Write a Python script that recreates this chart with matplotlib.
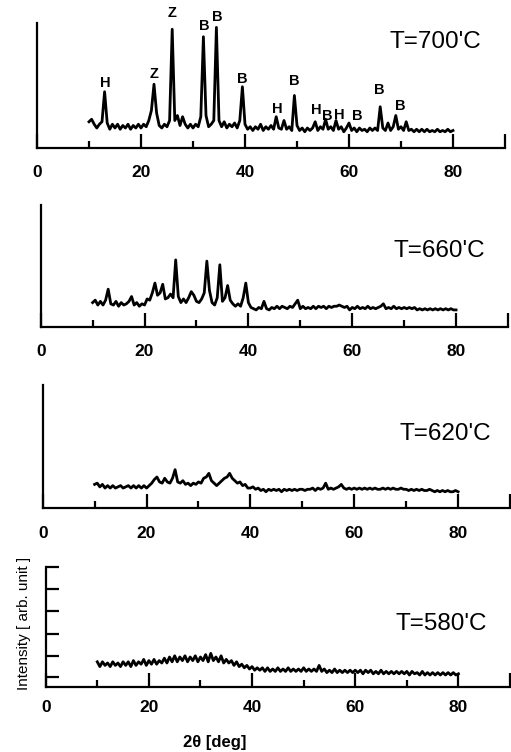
import matplotlib.pyplot as plt
import numpy as np

plt.rcParams['font.family'] = ['Liberation Sans', 'DejaVu Sans']

W, H = 511, 752

# diffractometer scan grid: 10 - 80 deg, 0.5 deg step
two_theta = np.arange(10.0, 80.01, 0.5)

# intensities (arb. units, axis top = 100)
i_700 = [21, 23, 19, 16, 19, 21, 45, 20, 15, 19,
         16, 19, 15, 18, 16, 19, 15, 18, 16, 19,
         16, 19, 17, 22, 30, 51, 28, 18, 16, 19,
         17, 22, 95, 22, 26, 18, 25, 19, 16, 19,
         16, 19, 17, 25, 89, 26, 17, 19, 22, 96.5,
         22, 17, 21, 16, 19, 17, 20, 16, 22, 49,
         19, 15, 17, 14, 17, 15, 19, 14, 17, 15,
         18, 15, 25, 16, 15, 22, 15, 17, 14, 42,
         18, 14, 16, 13, 16, 14, 16, 21, 14, 17,
         15, 23, 15, 17, 14, 22, 15, 17, 13, 16,
         20, 14, 16, 13, 16, 14, 15, 13, 16, 14,
         16, 14, 33, 16, 14, 20, 14, 17, 26, 15,
         17, 14, 21, 14, 15, 13, 15, 13, 15, 13,
         15, 13, 14, 13, 15, 13, 14, 13, 15, 13,
         14]

i_660 = [20, 22, 18, 21, 18, 22, 31, 19, 18, 21,
         17, 20, 18, 19, 21, 25, 18, 20, 17, 19,
         18, 23, 22, 28, 36, 26, 28, 35, 23, 24,
         27, 24, 55, 25, 20, 23, 20, 24, 29, 26,
         21, 20, 23, 28, 54, 30, 20, 18, 24, 51,
         21, 24, 34, 22, 19, 17, 19, 17, 24, 36,
         20, 16, 15, 14, 16, 15, 21, 15, 14, 16,
         15, 17, 15, 17, 16, 15, 17, 16, 19, 22,
         15, 17, 15, 16, 15, 17, 15, 17, 16, 17,
         15, 17, 16, 17, 17, 18, 17, 16, 17, 14,
         16, 15, 17, 15, 16, 15, 17, 15, 16, 15,
         16, 17, 19, 15, 16, 15, 17, 15, 16, 15,
         16, 15, 16, 15, 16, 14, 15, 14, 15, 14,
         15, 14, 15, 14, 15, 14, 15, 14, 15, 14,
         14]

i_620 = [19, 20, 17, 19, 16, 18, 16, 18, 16, 17,
         18, 16, 17, 18, 16, 18, 16, 18, 16, 18,
         16, 18, 20, 23, 25, 21, 20, 24, 21, 20,
         24, 31, 21, 20, 22, 19, 20, 18, 20, 19,
         21, 20, 24, 25, 28, 22, 20, 18, 20, 22,
         24, 25, 28, 24, 22, 20, 21, 18, 19, 16,
         16, 17, 15, 16, 14, 15, 13, 15, 14, 15,
         14, 15, 13, 15, 14, 15, 14, 15, 14, 15,
         15, 14, 15, 15, 16, 14, 16, 15, 16, 20,
         15, 16, 15, 16, 17, 19, 16, 15, 16, 15,
         16, 15, 16, 15, 16, 15, 16, 15, 16, 15,
         15, 16, 15, 16, 15, 16, 15, 15, 16, 15,
         15, 14, 15, 14, 15, 14, 15, 14, 14, 15,
         14, 13, 14, 13, 14, 13, 14, 13, 13, 14,
         13]

i_580 = [21, 17, 21, 18, 20, 17, 21, 18, 20, 17,
         21, 18, 21, 17, 22, 18, 21, 19, 23, 18,
         22, 19, 23, 19, 22, 20, 24, 20, 25, 21,
         26, 21, 25, 22, 26, 21, 25, 22, 26, 21,
         25, 22, 27, 21, 28, 22, 25, 21, 26, 20,
         23, 20, 22, 18, 21, 17, 19, 16, 18, 15,
         17, 14, 16, 14, 16, 13, 16, 13, 15, 13,
         16, 13, 15, 13, 16, 13, 15, 13, 15, 13,
         16, 13, 15, 13, 15, 13, 18, 13, 15, 12,
         14, 12, 15, 12, 14, 12, 14, 12, 14, 12,
         14, 12, 14, 11, 14, 12, 14, 11, 13, 11,
         14, 11, 13, 11, 13, 11, 13, 11, 13, 11,
         13, 10, 13, 11, 12, 10, 13, 10, 12, 10,
         12, 10, 12, 10, 12, 10, 12, 10, 12, 10,
         11]

temps = ["T=700'C", "T=660'C", "T=620'C", "T=580'C"]
scans = [i_700, i_660, i_620, i_580]

# phase marks on the 700'C pattern
peak_text = ['H', 'Z', 'Z', 'B', 'B', 'B', 'H', 'B', 'H', 'B', 'H', 'B', 'B', 'B']
peak_x = [13.1, 22.5, 25.9, 32.1, 34.6, 39.5, 46.3, 49.5, 53.8, 55.8, 58.1, 61.5, 65.8, 69.8]
peak_y = [52, 59, 108, 97.6, 105, 55, 31, 53.6, 30.4, 25.6, 26.4, 25.6, 46.4, 33.6]

x_major = [0, 20, 40, 60, 80, 90]
x_major_labels = ['0', '20', '40', '60', '80', '']
x_minor = [10, 30, 50, 70]
y_ticks_580 = [8, 26, 44.5, 63, 81.5, 100]

# axes boxes in pixels: left, right(=90 deg), top, baseline
boxes = [(37, 505, 23, 148), (40.7, 508, 205, 327),
         (42.7, 510, 385, 507.7), (45.7, 510, 567, 687)]
temp_pos = [(390, 42), (393, 251), (400, 434), (395, 624)]
label_pad = [12, 12.5, 13, 9.5]

fig = plt.figure(figsize=(W / 100, H / 100), dpi=100)

for k in range(4):
    l, r, t, b = boxes[k]
    ax = fig.add_axes([l / W, 1 - b / H, (r - l) / W, (b - t) / H])
    ax.plot(two_theta, scans[k], color='black', lw=2.0)
    ax.set_xlim(0, 90)
    ax.set_ylim(0, 100)
    for s in ['top', 'right']:
        ax.spines[s].set_visible(False)
    for s in ['left', 'bottom']:
        ax.spines[s].set_linewidth(1.6)
    ax.set_xticks(x_major)
    ax.set_xticklabels(x_major_labels, fontweight='bold')
    ax.set_xticks(x_minor, minor=True)
    ax.tick_params(axis='x', which='major', direction='in', length=10, width=1.6,
                   pad=label_pad[k], labelsize=12.5)
    ax.tick_params(axis='x', which='minor', direction='in', length=5, width=1.6)
    if k == 3:
        ax.set_yticks(y_ticks_580)
        ax.tick_params(axis='y', direction='in', length=9, width=1.6, labelleft=False)
    else:
        ax.set_yticks([])
    tx, ty = temp_pos[k]
    fig.text(tx / W, 1 - ty / H, temps[k], fontsize=17.5, ha='left', va='center')
    if k == 0:
        for s, px, py in zip(peak_text, peak_x, peak_y):
            ax.text(px, py, s, fontsize=10.5, fontweight='bold', ha='center', va='center')

fig.text(24 / W, 1 - 623 / H, 'Intensity [ arb. unit ]', rotation=90,
         fontsize=11, ha='center', va='center')
fig.text(215 / W, 1 - 742 / H, '2θ [deg]', fontsize=12, fontweight='bold',
         ha='center', va='center')

fig.savefig('out.png', dpi=100)
